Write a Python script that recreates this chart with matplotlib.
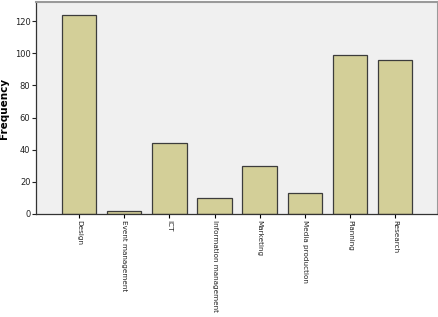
import numpy as np
import matplotlib
matplotlib.use('Agg')
from matplotlib import pyplot as plt

# categories and frequencies
categories = ['Design', 'Event management', 'ICT', 'Information management',
              'Marketing', 'Media production', 'Planning', 'Research']
frequency = [124, 2, 44, 10, 30, 13, 99, 96]
y_ticks = [0, 20, 40, 60, 80, 100, 120]

fig = plt.figure(figsize=(4.39, 3.17), dpi=100)
ax = fig.add_axes([0.082, 0.325, 0.916, 0.669])
ax.set_facecolor('#f0f0f0')

x = np.arange(len(categories))
ax.bar(x, frequency, width=0.76, color='#d3cf98', edgecolor='#3c3c3c', linewidth=0.9, zorder=2)

ax.set_xlim(-0.96, len(categories) - 0.04)
ax.set_ylim(0, 132)
ax.set_yticks(y_ticks)
ax.set_xticks(x)
ax.set_xticklabels(categories, rotation=270, fontsize=5.2, color='#222222')
ax.tick_params(axis='y', labelsize=6, colors='#222222', length=3, width=0.8, pad=1)
ax.tick_params(axis='x', length=3, width=0.8, pad=1)

for side in ['top', 'right']:
    ax.spines[side].set_color('#9a9a9a')
    ax.spines[side].set_linewidth(1.5)
for side in ['left', 'bottom']:
    ax.spines[side].set_color('#333333')
    ax.spines[side].set_linewidth(0.9)

ax.set_ylabel('Frequency', fontsize=7.5, fontweight='bold', labelpad=4)

fig.savefig('out.png', dpi=100)
